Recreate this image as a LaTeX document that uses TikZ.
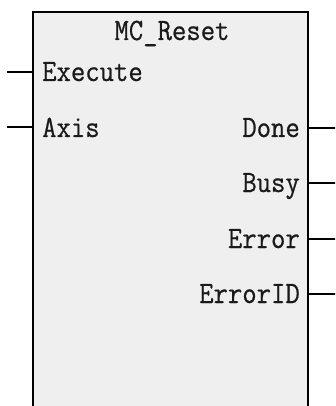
\documentclass[tikz,border=0pt]{standalone}
\usepackage{fontspec}
\newfontfamily\blkfont{Latin Modern Mono}[FakeStretch=0.9,FakeBold=0.6]
\definecolor{blockfill}{HTML}{EFEFEF}
\definecolor{txt}{HTML}{1A1A1A}
\tikzset{
  x=1pt,y=1pt,
  fbbox/.style={draw=black,line width=2pt,fill=blockfill},
  pin/.style={draw=black,line width=2pt},
  lbl/.style={inner sep=0pt,text=txt,font=\blkfont\fontsize{31}{31}\selectfont},
  inl/.style={lbl,anchor=base west},
  outl/.style={lbl,anchor=base east},
}
\begin{document}
\begin{tikzpicture}
\useasboundingbox (0,0) rectangle (335,-406);
\clip (0,0) rectangle (335,-406);
\draw[fbbox] (33,-12) rectangle (308,-430);
% title
\node[lbl,anchor=base] (title) at (172,-40) {MC\_Reset};
% inputs
\node[inl] (exe) at (42,-81) {Execute};
\node[inl] (axis) at (42,-137) {Axis};
\coordinate (pexe) at (7,-72);
\coordinate (paxis) at (7,-127.5);
\draw[pin] (pexe) -- (33,-72);
\draw[pin] (paxis) -- (33,-127.5);
% outputs
\node[outl] (done) at (300,-137) {Done};
\node[outl] (busy) at (300,-192) {Busy};
\node[outl] (err) at (300,-248) {Error};
\node[outl] (errid) at (300,-303) {ErrorID};
\coordinate (pdone) at (336,-128);
\coordinate (pbusy) at (336,-183);
\coordinate (perr) at (336,-238.5);
\coordinate (perrid) at (336,-294);
\draw[pin] (308,-128) -- (pdone);
\draw[pin] (308,-183) -- (pbusy);
\draw[pin] (308,-238.5) -- (perr);
\draw[pin] (308,-294) -- (perrid);
\end{tikzpicture}
\end{document}
